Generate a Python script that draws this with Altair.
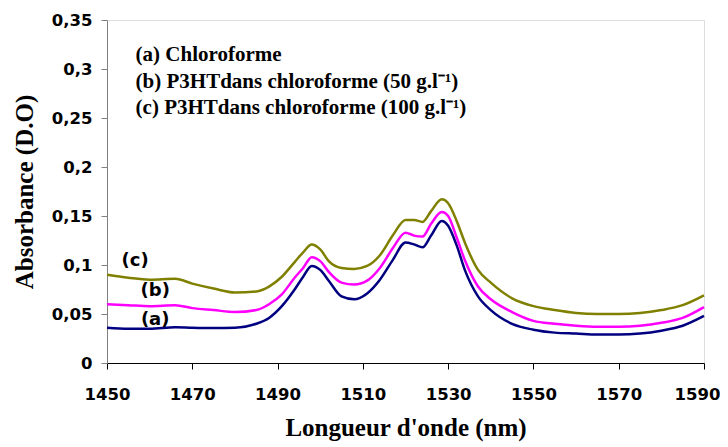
import altair as alt
import pandas as pd

wavelength = [1450, 1455, 1460, 1466, 1470, 1475, 1480, 1485, 1488, 1491, 1494, 1496, 1498,
              1500, 1502, 1505, 1508, 1511, 1514, 1517, 1520, 1522, 1524, 1526, 1528.5, 1530,
              1532, 1534, 1537, 1540, 1545, 1550, 1555, 1560, 1565, 1570, 1575, 1580, 1585, 1590]

abs_a = [0.036, 0.035, 0.035, 0.0365, 0.036, 0.0357, 0.036, 0.040, 0.046, 0.058, 0.075, 0.088, 0.099,
         0.095, 0.084, 0.068, 0.065, 0.071, 0.085, 0.105, 0.123, 0.121, 0.118, 0.130, 0.145, 0.140,
         0.120, 0.094, 0.068, 0.054, 0.040, 0.034, 0.031, 0.030, 0.029, 0.029, 0.030, 0.033, 0.038, 0.048]

abs_b = [0.060, 0.059, 0.058, 0.059, 0.056, 0.054, 0.052, 0.054, 0.060, 0.070, 0.087, 0.097, 0.108,
         0.104, 0.093, 0.082, 0.080, 0.084, 0.097, 0.117, 0.133, 0.130, 0.129, 0.142, 0.154, 0.150,
         0.128, 0.104, 0.078, 0.065, 0.052, 0.043, 0.040, 0.038, 0.037, 0.037, 0.038, 0.041, 0.046, 0.057]

abs_c = [0.090, 0.087, 0.085, 0.086, 0.081, 0.076, 0.072, 0.073, 0.078, 0.088, 0.103, 0.113, 0.121,
         0.116, 0.104, 0.097, 0.096, 0.099, 0.110, 0.130, 0.146, 0.146, 0.144, 0.155, 0.167, 0.163,
         0.145, 0.122, 0.095, 0.082, 0.066, 0.058, 0.054, 0.051, 0.050, 0.050, 0.051, 0.054, 0.059, 0.069]

series_names = ["a", "b", "c"]
series_colors = ["#000080", "#FF00FF", "#808000"]

curve_labels = ["(a)", "(b)", "(c)"]
curve_label_x = [1461.3, 1461.3, 1456.6]
curve_label_y = [0.0439, 0.0735, 0.104]

legend_lines = ["(a) Chloroforme",
                "(b) P3HTdans chloroforme (50 g.l\u207b\u00b9)",
                "(c) P3HTdans chloroforme (100 g.l\u207b\u00b9)"]
legend_x = [1456.7, 1456.7, 1456.7]
legend_y = [0.3143, 0.2872, 0.2602]

rows = []
for name, vals in zip(series_names, [abs_a, abs_b, abs_c]):
    for w, v in zip(wavelength, vals):
        rows.append({"wl": w, "abs": v, "serie": name})
df = pd.DataFrame(rows)

df_lab = pd.DataFrame({"x": curve_label_x, "y": curve_label_y, "t": curve_labels})
df_leg = pd.DataFrame({"x": legend_x, "y": legend_y, "t": legend_lines})

xscale = alt.Scale(domain=[1450, 1590], nice=False)
yscale = alt.Scale(domain=[0, 0.35], nice=False)

lines = alt.Chart(df).mark_line(strokeWidth=2.5, interpolate="monotone").encode(
    x=alt.X("wl:Q", scale=xscale,
            axis=alt.Axis(title="Longueur d'onde (nm)", values=list(range(1450, 1591, 20)),
                          format="d", grid=False, domainColor="black", tickColor="black",
                          tickSize=6, labelFont="DejaVu Sans", labelFontWeight="bold",
                          labelFontSize=16.5, labelColor="black", labelPadding=17,
                          labelAlign={"condition": {"test": "datum.value == 1590", "value": "right"},
                                      "value": "center"},
                          labelOffset={"condition": {"test": "datum.value == 1590", "value": 16},
                                       "value": 0},
                          labelFlush=False, labelOverlap=False, labelBound=False,
                          titleFont="Liberation Serif", titleFontWeight="bold", titleFontSize=25,
                          titleColor="black", titlePadding=13)),
    y=alt.Y("abs:Q", scale=yscale,
            axis=alt.Axis(title="Absorbance (D.O)", values=[0, 0.05, 0.1, 0.15, 0.2, 0.25, 0.3, 0.35],
                          labelExpr="replace(format(datum.value, '.2~f'), '.', ',')",
                          grid=False, domainColor="#808080", tickColor="#808080", tickSize=6,
                          labelFont="DejaVu Sans", labelFontWeight="bold", labelFontSize=16.5,
                          labelColor="black", labelPadding=9,
                          labelFlush=False, labelOverlap=False, labelBound=False,
                          titleFont="Liberation Serif", titleFontWeight="bold", titleFontSize=25,
                          titleColor="black", titlePadding=14)),
    color=alt.Color("serie:N", scale=alt.Scale(domain=series_names, range=series_colors), legend=None),
)

labs = alt.Chart(df_lab).mark_text(font="DejaVu Sans", fontWeight="bold", fontSize=18,
                                   color="black").encode(
    x=alt.X("x:Q", scale=xscale), y=alt.Y("y:Q", scale=yscale), text="t:N")

leg = alt.Chart(df_leg).mark_text(font="Liberation Serif", fontWeight="bold", fontSize=21,
                                  color="black", align="left").encode(
    x=alt.X("x:Q", scale=xscale), y=alt.Y("y:Q", scale=yscale), text="t:N")

chart = alt.layer(lines, labs, leg).properties(
    width=597, height=343,
    autosize=alt.AutoSizeParams(type="none"),
    padding={"left": 99, "top": 12, "right": 16, "bottom": 81},
).configure_view(stroke=None).configure(background="white")

chart.save("out.html", embed_options={"renderer": "svg", "actions": False})
